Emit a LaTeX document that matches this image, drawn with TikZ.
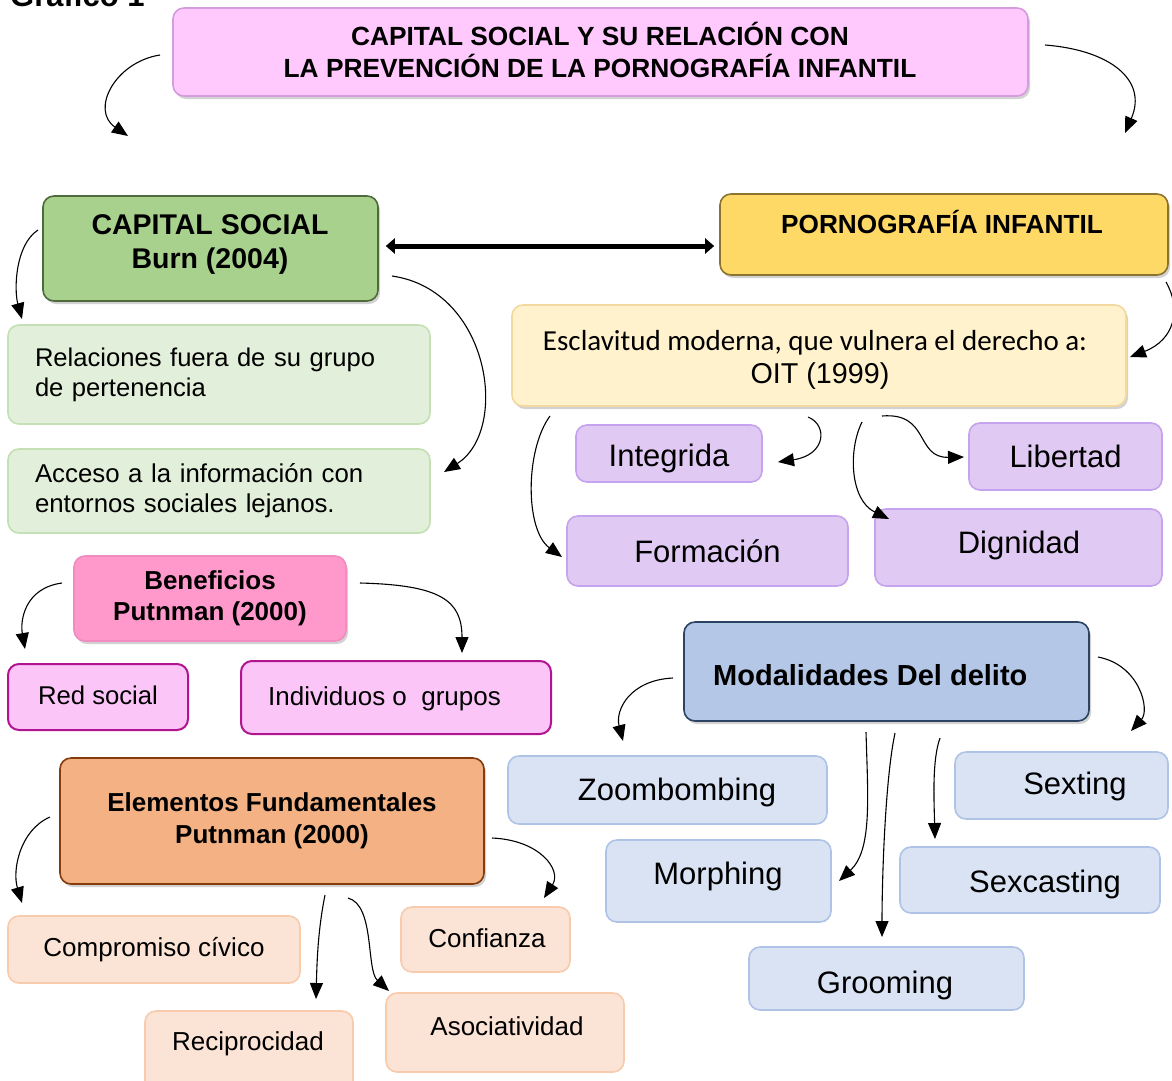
\documentclass[tikz,border=0pt]{standalone}
\usepackage{fontspec}
\setmainfont{Liberation Sans}
\newfontfamily\carlito{Carlito}
\usetikzlibrary{arrows.meta,shadows}
\newcommand\fsz[2]{\fontsize{#1}{#2}\selectfont}
\definecolor{titleF}{HTML}{FFC9FD}\definecolor{titleD}{HTML}{D49BDE}
\definecolor{csF}{HTML}{A9D18E}\definecolor{csD}{HTML}{4F6B3C}
\definecolor{piF}{HTML}{FFD966}\definecolor{piD}{HTML}{8C7330}
\definecolor{grF}{HTML}{E2EFDA}\definecolor{grD}{HTML}{C5E0B4}
\definecolor{escF}{HTML}{FFF2CC}\definecolor{escD}{HTML}{F3D9A0}
\definecolor{purF}{HTML}{E0C9F3}\definecolor{purD}{HTML}{C6A3EF}
\definecolor{benF}{HTML}{FF99CC}\definecolor{benD}{HTML}{F08CC0}
\definecolor{magF}{HTML}{FCC5F8}\definecolor{magD}{HTML}{B0158F}
\definecolor{elF}{HTML}{F4B183}\definecolor{elD}{HTML}{843C0C}
\definecolor{peF}{HTML}{FBE3D6}\definecolor{peD}{HTML}{F8CBAD}
\definecolor{modF}{HTML}{B4C7E7}\definecolor{modD}{HTML}{2C4363}
\definecolor{bluF}{HTML}{DAE3F3}\definecolor{bluD}{HTML}{AFC3E6}
\newcommand\bx[7]{\node[#2, minimum width={#5-#3}, minimum height={#6-#4}] (#1) at ({(#3+#5)/2},{(#4+#6)/2}) {#7};}
\begin{document}
\begin{tikzpicture}[x=1pt,y=-1pt,
  box/.style={rounded corners=11pt, draw, line width=1.6pt, inner sep=0pt, align=center},
  shad/.style={drop shadow={opacity=0.35, shadow xshift=2pt, shadow yshift=-3pt}},
  txt/.style={inner sep=0pt, align=center},
  arr/.style={-{Triangle[length=16pt,width=13pt]}, line width=1.1pt},
  bigarr/.style={{Triangle[length=9pt,width=15pt]}-{Triangle[length=9pt,width=15pt]}, line width=5pt}]
\useasboundingbox (0,0) rectangle (1172,1080);
\clip (0,0) rectangle (1172,1080);
\fill[white] (0,0) rectangle (1172,1080);
\node[anchor=base west, inner sep=0pt, font=\bfseries\fsz{31}{33}] (graf) at (10,6) {Gráfico 1};
% title
\bx{title}{box,shad,fill=titleF,draw=titleD,font=\bfseries\fsz{26.3}{32}}{173}{8}{1028}{96}{}
\node[txt,font=\bfseries\fsz{26.3}{32}] (titlet) at (600,50) {CAPITAL SOCIAL Y SU RELACIÓN CON\\LA PREVENCIÓN DE LA PORNOGRAFÍA INFANTIL};
% capital social
\bx{cs}{box,shad,fill=csF,draw=csD}{43}{196}{378}{301}{}
\node[txt,font=\bfseries\fsz{28.5}{34}] (cst) at (210,244) {CAPITAL SOCIAL\\Burn (2004)};
\bx{pi}{box,shad,fill=piF,draw=piD}{720}{194}{1168}{275}{}
\node[txt,font=\bfseries\fsz{26.2}{30}] (pit) at (942,222) {PORNOGRAFÍA INFANTIL};
\bx{rel}{box,fill=grF,draw=grD,text width=368pt,align=left,font=\fsz{25.6}{30}}{8}{325}{430}{424}{Relaciones fuera de su grupo\\de pertenencia}
\bx{acc}{box,fill=grF,draw=grD,text width=368pt,align=left,font=\fsz{25.8}{30}}{8}{449}{430}{533}{Acceso a la información con\\entornos sociales lejanos.}
\bx{esc}{box,shad,fill=escF,draw=escD}{512}{305}{1126}{406}{}
\node[txt,font=\carlito\fsz{29}{33}] (esct1) at (815,343) {Esclavitud moderna, que vulnera el derecho a:};
\node[txt,font=\fsz{28.7}{33}] (esct2) at (820,376) {OIT (1999)};
\bx{integ}{box,fill=purF,draw=purD}{576}{425}{762}{482}{}
\node[txt,font=\fsz{31}{34}] (integt) at (669,458) {Integrida};
\bx{lib}{box,fill=purF,draw=purD,font=\fsz{31}{34}}{969}{423}{1162}{490}{Libertad}
\bx{form}{box,fill=purF,draw=purD,font=\fsz{31}{34}}{567}{516}{848}{586}{Formación}
\bx{dig}{box,fill=purF,draw=purD}{875}{509}{1162}{586}{}
\node[txt,font=\fsz{31}{34}] (digt) at (1019,545) {Dignidad};
% beneficios
\bx{ben}{box,shad,fill=benF,draw=benD,font=\bfseries\fsz{26}{31}}{74}{556}{346}{641}{Beneficios\\Putnman (2000)}
\bx{red}{box,fill=magF,draw=magD,line width=2pt}{8}{664}{188}{730}{}
\node[txt,font=\fsz{25.7}{30}] (redt) at (98,695) {Red social};
\bx{ind}{box,fill=magF,draw=magD,line width=2pt}{241}{661}{551}{734}{}
\node[txt,anchor=west,font=\fsz{26}{30}] (indt) at (268,699) {Individuos o\ \ grupos};
% elementos
\bx{elem}{box,shad,fill=elF,draw=elD,font=\bfseries\fsz{26}{32}}{60}{758}{484}{884}{Elementos Fundamentales\\Putnman (2000)}
\bx{comp}{box,fill=peF,draw=peD,font=\fsz{26}{30}}{8}{916}{300}{983}{Compromiso cívico}
\bx{conf}{box,fill=peF,draw=peD}{401}{907}{570}{972}{}
\node[txt,font=\fsz{26}{30}] (conft) at (487,938) {Confianza};
\bx{rec}{box,fill=peF,draw=peD}{145}{1011}{353}{1092}{}
\node[txt,font=\fsz{26}{30}] (rect) at (248,1044) {Reciprocidad};
\bx{asoc}{box,fill=peF,draw=peD}{386}{993}{624}{1072}{}
\node[txt,font=\fsz{26}{30}] (asoct) at (507,1026) {Asociatividad};
% modalidades
\bx{mod}{box,shad,fill=modF,draw=modD}{684}{622}{1089}{721}{}
\node[txt,anchor=west,font=\bfseries\fsz{29}{32}] (modt) at (713,675) {Modalidades Del delito};
\bx{zoomb}{box,fill=bluF,draw=bluD}{508}{756}{827}{824}{}
\node[txt,font=\fsz{31}{34}] (zoombt) at (677,792) {Zoombombing};
\bx{sext}{box,fill=bluF,draw=bluD}{955}{752}{1168}{819}{}
\node[txt,font=\fsz{31}{34}] (sextt) at (1075,786) {Sexting};
\bx{morph}{box,fill=bluF,draw=bluD}{606}{840}{831}{922}{}
\node[txt,font=\fsz{31}{34}] (morpht) at (718,876) {Morphing};
\bx{sexc}{box,fill=bluF,draw=bluD}{900}{847}{1160}{913}{}
\node[txt,font=\fsz{31}{34}] (sexct) at (1045,884) {Sexcasting};
\bx{groom}{box,fill=bluF,draw=bluD}{749}{947}{1024}{1010}{}
\node[txt,font=\fsz{31}{34}] (groomt) at (885,985) {Grooming};
% connectors
\draw[bigarr] ([xshift=7pt]cs.east |- 0,246) -- ([xshift=-5pt]pi.west |- 0,246);
\coordinate (a1s) at (160,55); \coordinate (a1e) at (128,136);
\draw[arr] (a1s) .. controls (115,62) and (90,110) .. (a1e);
\coordinate (a2s) at (1045,45); \coordinate (a2e) at (1125,133);
\draw[arr] (a2s) .. controls (1110,50) and (1148,80) .. (a2e);
\coordinate (a3s) at (38,230); \coordinate (a3e) at (22,319);
\draw[arr] (a3s) .. controls (15,245) and (14,290) .. (a3e);
\coordinate (a4s) at (392,276); \coordinate (a4e) at (444,472);
\draw[arr] (a4s) .. controls (490,290) and (510,430) .. (a4e);
\coordinate (a5s) at (1166,282); \coordinate (a5e) at (1130,357);
\draw[arr] (a5s) .. controls (1182,310) and (1174,340) .. (a5e);
\coordinate (a6s) at (550,416); \coordinate (a6e) at (562,557);
\draw[arr] (a6s) .. controls (525,450) and (525,530) .. (a6e);
\coordinate (a7s) at (808,417); \coordinate (a7e) at (778,462);
\draw[arr] (a7s) .. controls (828,425) and (826,455) .. (a7e);
\coordinate (a8s) at (862,422); \coordinate (a8e) at (889,519);
\draw[arr] (a8s) .. controls (848,450) and (850,500) .. (a8e);
\coordinate (a9s) at (882,416); \coordinate (a9e) at (964,457);
\draw[arr] (a9s) .. controls (930,412) and (915,458) .. (a9e);
\coordinate (b1s) at (62,583); \coordinate (b1e) at (25,649);
\draw[arr] (b1s) .. controls (25,588) and (20,620) .. (b1e);
\coordinate (b2s) at (360,583); \coordinate (b2e) at (462,653);
\draw[arr] (b2s) .. controls (440,585) and (462,600) .. (b2e);
\coordinate (c1s) at (50,817); \coordinate (c1e) at (22,903);
\draw[arr] (c1s) .. controls (20,830) and (12,870) .. (c1e);
\coordinate (c2s) at (492,838); \coordinate (c2e) at (544,898);
\draw[arr] (c2s) .. controls (540,840) and (562,870) .. (c2e);
\coordinate (c3s) at (325,895); \coordinate (c3e) at (316,999);
\draw[arr] (c3s) .. controls (318,930) and (317,960) .. (c3e);
\coordinate (c4s) at (348,898); \coordinate (c4e) at (389,991);
\draw[arr] (c4s) .. controls (375,905) and (366,970) .. (c4e);
\coordinate (d1s) at (673,678); \coordinate (d1e) at (623,741);
\draw[arr] (d1s) .. controls (630,680) and (615,710) .. (d1e);
\coordinate (d2s) at (1098,657); \coordinate (d2e) at (1131,731);
\draw[arr] (d2s) .. controls (1140,665) and (1150,710) .. (d2e);
\coordinate (d3s) at (866,732); \coordinate (d3e) at (839,881);
\draw[arr] (d3s) .. controls (868,800) and (872,850) .. (d3e);
\coordinate (d4s) at (895,733); \coordinate (d4e) at (882,937);
\draw[arr] (d4s) .. controls (885,780) and (882,880) .. (d4e);
\coordinate (d5s) at (940,738); \coordinate (d5e) at (935,839);
\draw[arr] (d5s) .. controls (932,760) and (934,800) .. (d5e);
\end{tikzpicture}
\end{document}
